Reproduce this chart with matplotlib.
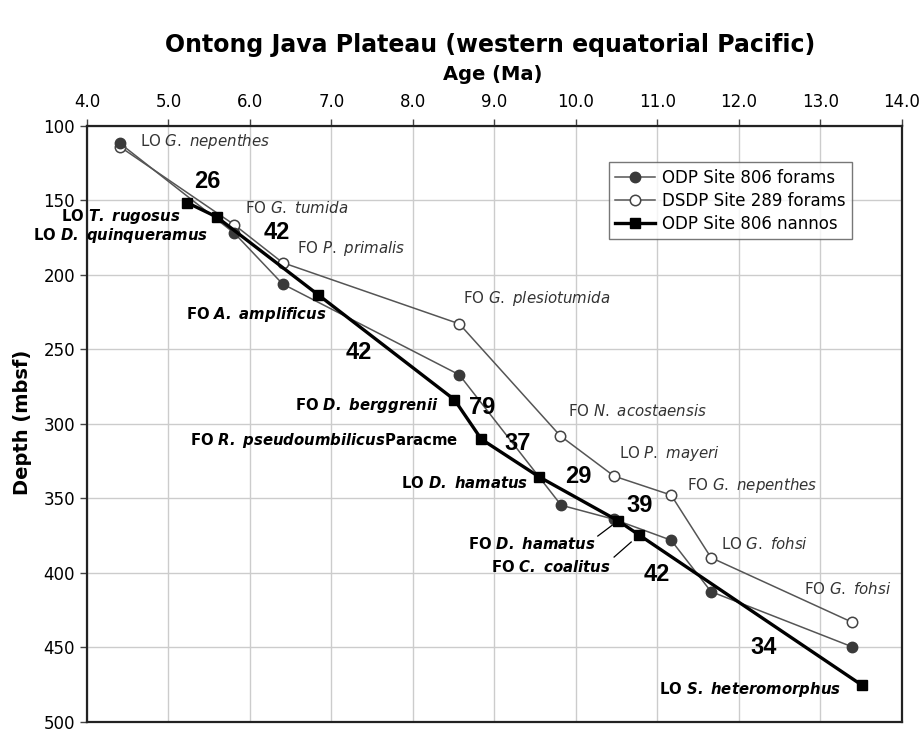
import matplotlib
import matplotlib.pyplot as plt

matplotlib.use("agg")

plt.rcParams["font.family"] = ["DejaVu Sans"]
plt.rcParams["mathtext.fontset"] = "custom"
plt.rcParams["mathtext.rm"] = "DejaVu Sans"
plt.rcParams["mathtext.it"] = "DejaVu Sans:italic"
plt.rcParams["mathtext.bf"] = "DejaVu Sans:bold"
plt.rcParams["mathtext.bfit"] = "DejaVu Sans:italic:bold"

# ODP Site 806 planktonic forams (filled circles)
odp_foram_age = [4.40, 5.81, 6.40, 8.57, 9.82, 10.47, 11.17, 11.66, 13.39]
odp_foram_depth = [111.5, 172.0, 206.0, 267.0, 354.5, 364.0, 378.0, 412.5, 449.5]

# DSDP Site 289 planktonic forams (open circles)
dsdp_foram_age = [4.40, 5.81, 6.40, 8.57, 9.81, 10.47, 11.17, 11.66, 13.39]
dsdp_foram_depth = [113.8, 166.4, 191.7, 232.8, 308.0, 335.0, 347.7, 389.7, 433.0]

# ODP Site 806 nannofossils (squares)
nanno_age = [5.23, 5.59, 6.84, 8.51, 8.84, 9.55, 10.52, 10.78, 13.51]
nanno_depth = [151.5, 161.0, 213.4, 283.7, 310.2, 335.5, 365.0, 374.6, 475.2]

# forams datums (regular text, italic taxon), left aligned
foram_labels = [
    ("LO", "G. nepenthes", 4.65, 110.5),
    ("FO", "G. tumida", 5.94, 155.0),
    ("FO", "P. primalis", 6.58, 182.5),
    ("FO", "G. plesiotumida", 8.62, 215.5),
    ("FO", "N. acostaensis", 9.90, 291.0),
    ("LO", "P. mayeri", 10.53, 319.5),
    ("FO", "G. nepenthes", 11.36, 341.5),
    ("LO", "G. fohsi", 11.78, 380.5),
    ("FO", "G. fohsi", 12.80, 410.5),
]

# nannofossil datums (bold text), right aligned
nanno_labels = [
    ("LO", "T. rugosus", "", 5.14, 161.0),
    ("LO", "D. quinqueramus", "", 5.48, 173.8),
    ("FO", "A. amplificus", "", 6.94, 226.8),
    ("FO", "D. berggrenii", "", 8.31, 287.6),
    ("FO", "R. pseudoumbilicus", "Paracme", 8.55, 311.4),
    ("LO", "D. hamatus", "", 9.42, 339.6),
    ("FO", "D. hamatus", "", 10.25, 380.5),
    ("FO", "C. coalitus", "", 10.43, 396.0),
    ("LO", "S. heteromorphus", "", 13.26, 478.5),
]

# sedimentation rates (m/Myr)
rate_labels = ["26", "42", "42", "79", "37", "29", "39", "42", "34"]
rate_age = [5.48, 6.33, 7.34, 8.85, 9.29, 10.03, 10.78, 11.00, 12.30]
rate_depth = [137.6, 171.8, 251.7, 289.0, 312.8, 335.4, 355.0, 401.0, 449.7]


def it_text(words):
    return r"\ ".join(words.split(" "))


fig = plt.figure(figsize=(9.21, 7.29), dpi=100, facecolor="white")
ax = fig.add_axes([0.0945, 0.0096, 0.8845, 0.8176])

ax.plot(odp_foram_age, odp_foram_depth, color="#555555", linewidth=1.1,
        marker="o", markersize=7.5, markerfacecolor="#3a3a3a",
        markeredgecolor="#3a3a3a", label="ODP Site 806 forams", zorder=4)
ax.plot(dsdp_foram_age, dsdp_foram_depth, color="#555555", linewidth=1.1,
        marker="o", markersize=7.5, markerfacecolor="white",
        markeredgecolor="#444444", markeredgewidth=1.1,
        label="DSDP Site 289 forams", zorder=3)
ax.plot(nanno_age, nanno_depth, color="black", linewidth=2.4,
        marker="s", markersize=6.5, markerfacecolor="black",
        markeredgecolor="black", label="ODP Site 806 nannos", zorder=5)

for prefix, taxon, x, y in foram_labels:
    ax.text(x, y, prefix + r" $\mathit{" + it_text(taxon) + "}$",
            fontsize=10.8, color="#333333", ha="left", va="center", zorder=6)

for prefix, taxon, suffix, x, y in nanno_labels:
    ax.text(x, y, prefix + r" $\mathbfit{" + it_text(taxon) + "}$" + suffix,
            fontsize=10.7, fontweight="bold", color="black",
            ha="right", va="center", zorder=6)

for lab, x, y in zip(rate_labels, rate_age, rate_depth):
    ax.text(x, y, lab, fontsize=17, fontweight="bold", family="Liberation Sans",
            ha="center", va="center", zorder=6)

# leader lines for the crowded datums
ax.plot([10.27, 10.45], [375.2, 367.8], color="black", linewidth=0.9)
ax.plot([10.47, 10.68], [389.3, 379.2], color="black", linewidth=0.9)

ax.set_xlim(4.0, 14.0)
ax.set_ylim(500, 100)
ax.set_xticks([4 + i for i in range(11)])
ax.set_xticklabels(["%.1f" % (4 + i) for i in range(11)])
ax.set_yticks([100 + 50 * i for i in range(9)])
ax.xaxis.tick_top()
ax.tick_params(axis="both", labelsize=12, direction="out", length=5,
               width=1, color="#444444", labelcolor="black")
ax.tick_params(axis="x", pad=6)

ax.grid(True, color="#cccccc", linewidth=1.0)
ax.set_axisbelow(True)
for side in ["top", "bottom", "left", "right"]:
    ax.spines[side].set_linewidth(1.6)
    ax.spines[side].set_color("#222222")

leg = ax.legend(loc="upper right", bbox_to_anchor=(0.9395, 0.9395),
                fontsize=12, frameon=True, fancybox=False,
                handlelength=2.4, handletextpad=0.4, borderpad=0.4,
                labelspacing=0.3, borderaxespad=0)
leg.get_frame().set_edgecolor("#555555")
leg.get_frame().set_linewidth(1.0)

fig.text(0.532, 1 - 45 / 729, "Ontong Java Plateau (western equatorial Pacific)",
         fontsize=17, fontweight="bold", ha="center", va="center")
fig.text(0.535, 1 - 75 / 729, "Age (Ma)", fontsize=14, fontweight="bold",
         ha="center", va="center")
fig.text(22 / 921, 1 - 422 / 729, "Depth (mbsf)", fontsize=14, fontweight="bold",
         ha="center", va="center", rotation=90)

plt.savefig("out.png", dpi=100, facecolor="white")
plt.close(fig)
